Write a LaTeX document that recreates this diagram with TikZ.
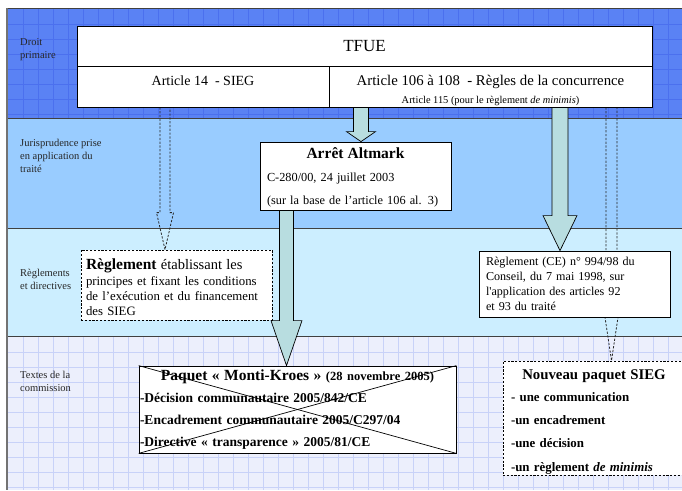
\documentclass[tikz,border=0pt]{standalone}
\usepackage{fontspec}
\setmainfont{Liberation Serif}
\usetikzlibrary{calc}
\definecolor{bandA}{HTML}{5A82F4}
\definecolor{gridA}{HTML}{4B70EE}
\definecolor{bandB}{HTML}{99CCFF}
\definecolor{bandC}{HTML}{CCEEFF}
\definecolor{bandD}{HTML}{ECEFFC}
\definecolor{gridD}{HTML}{C8D2F8}
\definecolor{fleche}{HTML}{B8DDE0}
\newcommand{\fsz}[2]{\fontsize{#1}{#2}\selectfont}
% fleche epaisse : [style]{depart}{pointe}{demi-tige}{demi-tete}{longueur tete}
\newcommand{\flechebloc}[6][grosse]{%
  \path[#1] let \p1=#2, \p2=#3 in
    (\x2-#4pt,\y1) -- (\x2-#4pt,\y2+#6pt) -- (\x2-#5pt,\y2+#6pt) -- (\x2,\y2)
    -- (\x2+#5pt,\y2+#6pt) -- (\x2+#4pt,\y2+#6pt) -- (\x2+#4pt,\y1) -- cycle;}
\pgfdeclarelayer{fond}
\pgfdeclarelayer{fleches}
\pgfsetlayers{fond,fleches,main}
\tikzset{
  bandlabel/.style={anchor=north west, align=left, inner sep=0pt, text=black!85, font=\fsz{10.5}{13}},
  boite/.style={draw, fill=white, line width=0.8pt, inner sep=0pt},
  texte/.style={align=left, inner sep=0pt},
  pointille/.style={dash pattern=on 2.2pt off 1.6pt},
  grosse/.style={draw=black, fill=fleche, line width=0.7pt},
  tiret/.style={draw=black!85, pointille, line width=0.8pt},
}
\begin{document}
\begin{tikzpicture}[x=1pt, y=-1pt]
\clip (0,0) rectangle (682,490);

% bandes de fond
\begin{pgfonlayer}{fond}
  \fill[bandA] (7,8) rectangle (682,118);
  \fill[bandB] (7,118) rectangle (682,228);
  \fill[bandC] (7,228) rectangle (682,336);
  \fill[bandD] (7,336) rectangle (682,490);
  \foreach \x in {23,38,...,682} {
    \draw[gridA, line width=0.5pt] (\x,8) -- (\x,118);
    \draw[gridD, line width=0.5pt] (\x,336) -- (\x,490);
  }
  \foreach \y in {24,39,...,118} \draw[gridA, line width=0.5pt] (7,\y) -- (682,\y);
  \foreach \y in {352,367,...,490} \draw[gridD, line width=0.5pt] (7,\y) -- (682,\y);
  \draw[black!75, line width=0.8pt] (7,8) -- (682,8) (7,118) -- (682,118)
    (7,228) -- (682,228) (7,336) -- (682,336);
  \draw[black!55, line width=1.5pt] (7,8) -- (7,490);
\end{pgfonlayer}

\node[bandlabel] (lab-droit) at (20,38) {Droit\\primaire};
\node[bandlabel] (lab-juris) at (20,139) {Jurisprudence prise\\en application du\\traité};
\node[bandlabel] (lab-regl) at (20,269) {Règlements\\et directives};
\node[bandlabel] (lab-textes) at (20,371) {Textes de la\\commission};

% traite
\node[boite, minimum width=575pt, minimum height=40pt, font=\fsz{17}{20}] (tfue) at (364.5,46.5) {TFUE};
\node[boite, minimum width=252pt, minimum height=41pt] (art14) at (203,86.5) {};
\node[font=\fsz{14}{16}] (art14-txt) at ([yshift=6pt]art14.center) {Article 14\ \ - SIEG};
\node[boite, minimum width=323pt, minimum height=41pt] (art106) at (490.5,86.5) {};
\node[font=\fsz{14.8}{16}] (art106-txt) at ([yshift=5pt]art106.center) {Article 106 à 108\ \ - Règles de la concurrence};
\node[font=\fsz{10.4}{12}, anchor=south, inner sep=1.5pt] (art115) at (art106.south) {Article 115 (pour le règlement \textit{de minimis})};

% jurisprudence
\node[boite, minimum width=191pt, minimum height=68pt] (altmark) at (355.5,176) {};
\node[texte, text width=177pt, font=\fsz{12.3}{23}] (altmark-txt) at ([yshift=-1pt]altmark.center)
  {\makebox[177pt][c]{\fsz{15.5}{23}\bfseries Arrêt Altmark}\\C-280/00, 24 juillet 2003\\(sur la base de l'article 106 al. 3)};

% reglements
\node[boite, pointille, minimum width=191pt, minimum height=70pt] (reglsieg) at (176.5,285) {};
\node[texte, text width=181pt, font=\fsz{12.8}{15.3}] (reglsieg-txt) at ([yshift=-2.5pt]reglsieg.center)
  {{\fsz{15.5}{15.3}\bfseries Règlement} {\fsz{14.5}{15.3}établissant les}\\principes et fixant les conditions\\de l'exécution et du financement\\des SIEG};
\node[boite, minimum width=191pt, minimum height=66pt] (reglce) at (574.5,284) {};
\node[texte, text width=177pt, font=\fsz{12.1}{15}] (reglce-txt) at (reglce.center)
  {Règlement (CE) n° 994/98 du\\Conseil, du 7 mai 1998, sur\\l\textquotesingle application des articles 92\\et 93 du traité};

% textes de la commission
\node[boite, minimum width=317pt, minimum height=87pt] (paquet) at (297.5,409.5) {};
\node[texte, text width=315pt, font=\fsz{13.5}{22}\bfseries] (paquet-txt) at (paquet.center)
  {\makebox[315pt][c]{\fsz{15.5}{22}Paquet « Monti-Kroes » {\fsz{12.5}{22}(28 novembre 2005)}}\\
   -Décision communautaire 2005/842/CE\\
   -Encadrement communautaire 2005/C297/04\\
   -Directive « transparence » 2005/81/CE};
\draw[line width=0.7pt] (paquet.north west) -- (paquet.south east);
\draw[line width=0.7pt] (paquet.south west) -- (paquet.north east);
\node[boite, pointille, minimum width=182pt, minimum height=114pt] (nouveau) at (594,418) {};
\node[texte, text width=166pt, font=\fsz{12.9}{23.3}\bfseries] (nouveau-txt) at ([yshift=-4pt]nouveau.center)
  {\makebox[166pt][c]{\fsz{14.8}{23.3}Nouveau paquet SIEG}\\[-2pt]
   - une communication\\
   -un encadrement\\
   -une décision\\
   -un règlement \textit{de minimis}};

% fleches
\coordinate (pied-altmark) at ([xshift=-69pt]altmark.south);
\begin{pgfonlayer}{fleches}
  \flechebloc[tiret]{(art14.south)}{([xshift=-11.5pt]reglsieg.north)}{5}{8.5}{37}
  \flechebloc[tiret]{(art106.south)}{([xshift=17.5pt]nouveau.north)}{5.5}{9}{60}
  \flechebloc{(art106.south)}{([xshift=5.5pt]altmark.north)}{7.5}{14.5}{10}
  \flechebloc{(altmark.south)}{(pied-altmark |- paquet.north)}{7}{15.5}{45}
  \flechebloc{(art106.south)}{([xshift=-14.5pt]reglce.north)}{8}{17}{35}
\end{pgfonlayer}
\end{tikzpicture}
\end{document}
